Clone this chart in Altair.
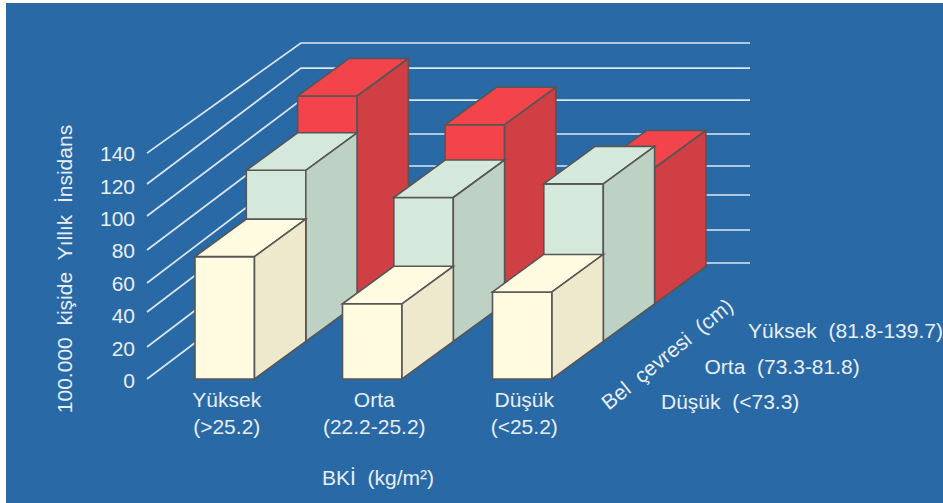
import altair as alt
import pandas as pd

# Incidence per 100,000 by BMI group (columns) and waist group (rows, back to front)
bmi_labels = [["Yüksek", "(>25.2)"], ["Orta", "(22.2-25.2)"], ["Düşük", "(<25.2)"]]
waist_labels = ["Düşük  (<73.3)", "Orta  (73.3-81.8)", "Yüksek  (81.8-139.7)"]
waist_low = [76.5, 47, 54.4]
waist_mid = [107, 90, 98.5]
waist_high = [130, 112, 85]
series = [waist_low, waist_mid, waist_high]

tick_values = [0, 20, 40, 60, 80, 100, 120, 140]
wall_front = [0, 20, 41.9, 60, 80.6, 101.9, 121.9, 141.2]
wall_back = [2.2, 22.8, 44.7, 62.8, 82.8, 104, 124, 139.7]

# Row palette: (front/top face, side face)
row_colors = [("#fffbe0", "#eee8cd"), ("#d4e9db", "#bdd1c5"), ("#f2444a", "#cf3f44")]

# Oblique projection of (across, depth, value) onto the drawing plane
W, H = 943, 503
DX, DY, UNIT, BASE = 51.3, 37.5, 1.6, 379
COL_X = [195, 342.5, 492.5]
BAR_W = 59.5
WALL_X = 147
GRID_END = 750


def px(u, d):
    return u + DX * d


def py(v, d):
    return BASE - DY * d - UNIT * v


rows = []


def add_poly(points, fill):
    pid = len({r["poly"] for r in rows})
    for i, (x, y) in enumerate(points):
        rows.append({"poly": f"p{pid:03d}", "seq": i, "x": x, "y": y, "fill": fill})


# Paint from the back row forward so nearer bars cover farther ones
for d in [2, 1, 0]:
    front, side = row_colors[d]
    for c in [0, 1, 2]:
        v = series[d][c]
        u0, u1 = COL_X[c], COL_X[c] + BAR_W
        add_poly([(px(u0, d), py(v, d)), (px(u1, d), py(v, d)), (px(u1, d), py(0, d)), (px(u0, d), py(0, d))], front)
        add_poly([(px(u0, d), py(v, d)), (px(u1, d), py(v, d)), (px(u1, d + 1), py(v, d + 1)), (px(u0, d + 1), py(v, d + 1))], front)
        add_poly([(px(u1, d), py(v, d)), (px(u1, d + 1), py(v, d + 1)), (px(u1, d + 1), py(0, d + 1)), (px(u1, d), py(0, d))], side)
bars = pd.DataFrame(rows)

grid_rows = []
for i, (a, b) in enumerate(zip(wall_front, wall_back)):
    grid_rows += [
        {"g": i, "seq": 0, "x": px(WALL_X, 0), "y": py(a, 0)},
        {"g": i, "seq": 1, "x": px(WALL_X, 3), "y": py(b, 3)},
        {"g": i, "seq": 2, "x": GRID_END, "y": py(b, 3)},
    ]
grid = pd.DataFrame(grid_rows)

text_rows = []
TEXT = "#e9eff6"
FS = 21


def label(text, x, y, align="center", angle=0):
    text_rows.append({"t": text, "x": x, "y": y, "align": align, "angle": angle})


for t in tick_values:
    label(str(t), 135, py(t * 1.0125, 0) + 3, "right")
for c, (a, b) in enumerate(bmi_labels):
    mid = COL_X[c] + BAR_W / 2 + 2
    label(a, mid, 401)
    label(b, mid, 428)
label("BKİ\u00a0\u00a0(kg/m²)", 378, 479)
label("100.000\u00a0\u00a0kişide\u00a0\u00a0Yıllık\u00a0\u00a0İnsidans", 66, 269, "center", 270)
label("Bel\u00a0\u00a0çevresi\u00a0\u00a0(cm)", 668, 355, "center", 321)
for i, t in enumerate(waist_labels):
    label(t.replace("  ", "\u00a0\u00a0"), 661 + 43.5 * i, 403 - 35.5 * i, "left")
texts = pd.DataFrame(text_rows)

xs = alt.Scale(domain=[0, W], range=[0, W], nice=False, zero=False)
ys = alt.Scale(domain=[0, H], range=[0, H], nice=False, zero=False)
X = alt.X("x:Q", scale=xs, axis=None)
Y = alt.Y("y:Q", scale=ys, axis=None)

panel = pd.DataFrame({"x": [6], "x2": [W], "y": [3], "y2": [H]})
bg = alt.Chart(panel).mark_rect(color="#2869a6").encode(
    x=X, x2="x2:Q", y=Y, y2="y2:Q"
)

grid_layer = alt.Chart(grid).mark_line(color="#dde7f1", strokeWidth=1.7).encode(
    x=X, y=Y, detail="g:N", order="seq:Q"
)

bar_layer = alt.Chart(bars).mark_line(
    interpolate="linear-closed", stroke="#565656", strokeWidth=1.6, strokeJoin="miter"
).encode(
    x=X, y=Y, detail="poly:N", order="seq:Q",
    fill=alt.Fill("fill:N", scale=None, legend=None),
)

text_layers = []
for (al, ang), sub in texts.groupby(["align", "angle"], sort=False):
    text_layers.append(
        alt.Chart(sub).mark_text(
            font="Liberation Sans", fontSize=FS, color=TEXT, align=al, angle=ang, baseline="middle"
        ).encode(x=X, y=Y, text="t:N")
    )

chart = alt.layer(bg, grid_layer, bar_layer, *text_layers).properties(
    width=W, height=H, padding=0, background="white",
    autosize=alt.AutoSizeParams(type="none"),
).configure_view(stroke=None)

chart.save("out.html", embed_options={"renderer": "svg", "actions": False})
